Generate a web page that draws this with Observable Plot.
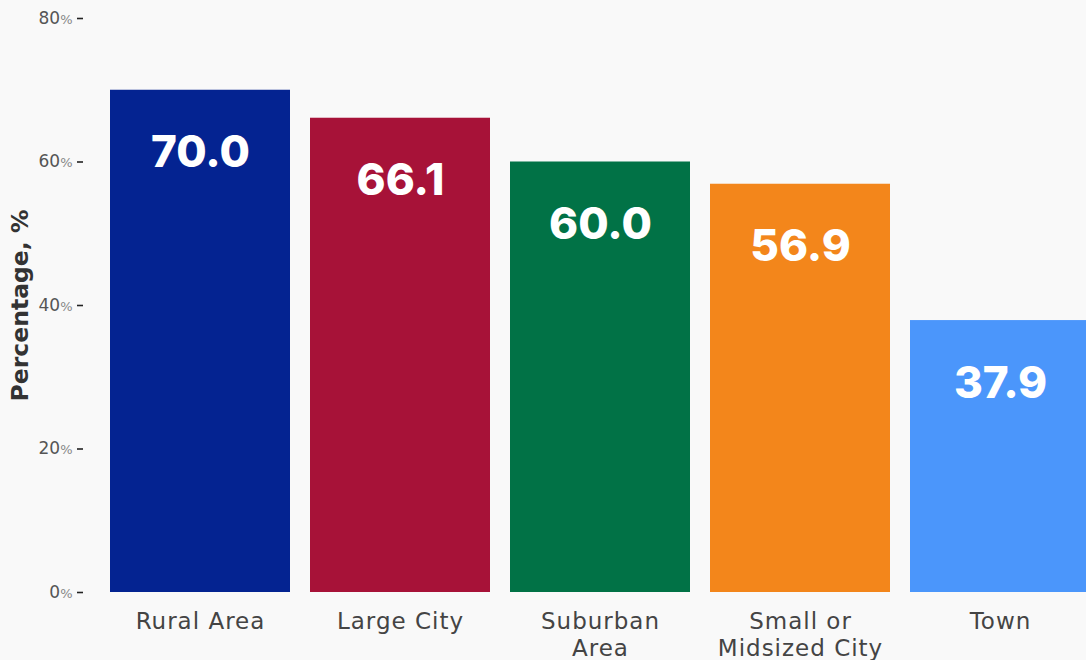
<!DOCTYPE html>
<html><head><meta charset="utf-8">
<script src="https://cdn.jsdelivr.net/npm/d3@7"></script>
<script src="https://cdn.jsdelivr.net/npm/@observablehq/plot@0.6"></script>
<style>
html,body{margin:0;padding:0;background:#f9f9f9;overflow:hidden;}
</style></head><body><div id="chart"></div>
<script>
const categories = ["Rural Area", "Large City", "Suburban\nArea", "Small or\nMidsized City", "Town"];
const values = [70.0, 66.1, 60.0, 56.9, 37.9];
const colors = ["#042391", "#a71238", "#017246", "#f3861b", "#4b96fb"];
const yTicks = [0, 20, 40, 60, 80];
const yTitle = "Percentage, %";

const data = categories.map((c, i) => ({category: c, value: values[i]}));

const chart = Plot.plot({
  width: 1086,
  height: 660,
  marginLeft: 83,
  marginTop: 18,
  marginBottom: 68,
  marginRight: 0,
  style: {background: "#f9f9f9", fontFamily: "'DejaVu Sans', sans-serif", overflow: "hidden"},
  x: {domain: categories, range: [99, 1102], paddingInner: 0.1, paddingOuter: 0.05, label: null},
  y: {domain: [0, 80], range: [592, 18], label: null},
  color: {domain: categories, range: colors},
  marks: [
    Plot.barY(data, {x: "category", y: "value", fill: "category"}),
    Plot.text(data, {
      x: "category", y: "value", text: d => d.value.toFixed(1),
      dy: 63, fill: "white", fontSize: 44, fontWeight: 800,
      fontFamily: "Inter, sans-serif", lineAnchor: "middle"
    }),
    Plot.axisY({
      ticks: yTicks, tickFormat: d => d + "%", tickSize: 6, tickPadding: 5,
      fontSize: 17, color: "#555", stroke: "#222", label: null
    }),
    Plot.axisX({
      tickSize: 0, tickPadding: 17, fontSize: 23, color: "#444",
      lineHeight: 1.17, label: null, textOverflow: null
    }),
    Plot.text([yTitle], {
      frameAnchor: "left", dx: -63, rotate: -90, text: d => d,
      fontSize: 23.5, fontWeight: 700, fill: "#333", textAnchor: "middle", lineAnchor: "middle"
    })
  ]
});
document.getElementById("chart").appendChild(chart);

// x labels: slightly wider letter spacing
d3.select(chart).selectAll("g[aria-label='x-axis tick label']").attr("letter-spacing", "1px");

// Smaller, lighter percent sign on y tick labels
d3.select(chart).selectAll("g[aria-label='y-axis tick label'] text").each(function () {
  const t = d3.select(this);
  const s = t.text();
  if (s.endsWith("%")) {
    t.text(s.slice(0, -1));
    t.append("tspan").attr("font-size", 13).attr("fill", "#888").text("%");
  }
});
d3.select(chart).selectAll("g[aria-label='y-axis tick'] path").attr("stroke-width", 1.6);
</script></body></html>
